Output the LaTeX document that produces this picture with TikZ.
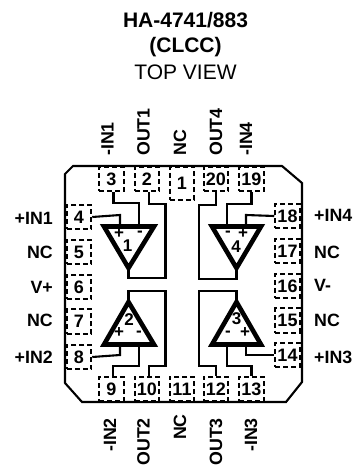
\documentclass[tikz,border=0pt]{standalone}
\usepackage{fontspec}
\setmainfont{Liberation Sans}
\tikzset{x=1pt,y=-1pt,
 pin/.style={draw,fill=white,line width=2pt,dash pattern=on 5pt off 3pt,minimum width=24.5pt,minimum height=24.5pt,inner sep=0pt,font=\bfseries\fontsize{18}{18}\selectfont},
 wire/.style={line width=2.1pt,line join=miter},
 amp/.style={line width=4.6pt,line join=miter},
 lab/.style={font=\bfseries\fontsize{17.8}{18}\selectfont,inner sep=0pt},
 ampmark/.style={font=\bfseries\fontsize{17}{17}\selectfont,inner sep=0pt},
 title/.style={font=\fontsize{21}{24}\selectfont,inner sep=0pt}}
\begin{document}
\begin{tikzpicture}
\useasboundingbox (0,0) rectangle (353,466);
\node[title] (t1) at (185.5,20) {\bfseries HA-4741/883};
\node[title] (t2) at (185.5,47) {\bfseries (CLCC)};
\node[title] (t3) at (185.5,72) {TOP VIEW};
\draw[line width=2.1pt] (65,174) -- (73,166) -- (282,166) -- (302,183) -- (302,382) -- (286,402) -- (82,402) -- (65,383) -- cycle;
\node[pin] (p3) at (111.5,179) {3};
\node[pin] (p2) at (147,179) {2};
\node[pin,minimum height=33pt] (p1) at (182,183) {1};
\node[pin] (p20) at (216,179) {20};
\node[pin] (p19) at (251.5,179) {19};
\node[pin] (p4) at (79,217) {4};
\node[pin] (p5) at (79,252) {5};
\node[pin] (p6) at (79,287) {6};
\node[pin] (p7) at (79,321.5) {7};
\node[pin] (p8) at (79,357) {8};
\node[pin] (p18) at (287.5,216) {18};
\node[pin] (p17) at (287.5,251) {17};
\node[pin] (p16) at (287.5,286) {16};
\node[pin] (p15) at (287.5,320.5) {15};
\node[pin] (p14) at (287.5,355) {14};
\node[pin] (p9) at (111.5,389) {9};
\node[pin] (p10) at (147,389) {10};
\node[pin] (p11) at (182,389) {11};
\node[pin] (p12) at (216,389) {12};
\node[pin] (p13) at (251.5,389) {13};
% amps
\draw[amp] (104,226.5) -- (154,226.5) -- (128.5,268) -- cycle;
\draw[amp] (212,226.5) -- (261,226.5) -- (236.5,268) -- cycle;
\draw[amp] (104,344.5) -- (154,344.5) -- (128.5,302) -- cycle;
\draw[amp] (212,344.5) -- (261,344.5) -- (236.5,302) -- cycle;
\node[ampmark] (a1) at (127.5,246) {1};
\node[ampmark] (a4) at (236,247) {4};
\node[ampmark] (a2) at (129,320) {2};
\node[ampmark] (a3) at (236.5,319) {3};
\node[ampmark] (a1p) at (119,234) {+};
\node[ampmark] (a1m) at (140,234) {-};
\node[ampmark] (a4m) at (228,234) {-};
\node[ampmark] (a4p) at (243,234) {+};
\node[ampmark] (a2p) at (119,333) {+};
\node[ampmark] (a2m) at (139,334) {-};
\node[ampmark] (a3m) at (228,334) {-};
\node[ampmark] (a3p) at (245,333) {+};
% wires
\coordinate (i1p) at (120,225); \coordinate (i1m) at (139,225); \coordinate (o1) at (128.5,270);
\coordinate (i4m) at (227,225); \coordinate (i4p) at (246,225); \coordinate (o4) at (236.5,270);
\coordinate (i2p) at (120,345); \coordinate (i2m) at (139,345); \coordinate (o2) at (128.5,300);
\coordinate (i3m) at (227,345); \coordinate (i3p) at (246,345); \coordinate (o3) at (236.5,300);
\draw[wire] (p3.south) ++(2,0) |- (139,203) -- (i1m);
\draw[wire] (p2.south) ++(2,0) |- (165.5,204) |- (128.5,278) -- (o1);
\draw[wire] (p4.east) -- (120,215) -- (i1p);
\draw[wire] (o2) -- (128.5,291) -- (165.5,291) |- (149,366) -- (149,376.5);
\draw[wire] (i2m) -- (139,366) -- (113,366) -- (113,376.5);
\draw[wire] (i2p) -- (120,355) -- (p8.east);
\draw[wire] (p20.south) |- (199,205) |- (236.5,279) -- (o4);
\draw[wire] (p19.south) |- (227,204) -- (i4m);
\draw[wire] (p18.west) -- (246,215) -- (i4p);
\draw[wire] (o3) -- (236.5,291) -- (199,291) |- (216,366) -- (p12.north);
\draw[wire] (i3m) -- (227,366) -- (251.5,366) -- (p13.north);
\draw[wire] (i3p) -- (246,355) -- (p14.west);
% labels
\node[lab,anchor=west,rotate=90] (l1) at (107.5,156) {-IN1};
\node[lab,anchor=west,rotate=90] (l2) at (143.5,156) {OUT1};
\node[lab,anchor=west,rotate=90] (l3) at (180,156) {NC};
\node[lab,anchor=west,rotate=90] (l4) at (216,156) {OUT4};
\node[lab,anchor=west,rotate=90] (l5) at (246,156) {-IN4};
\node[lab,anchor=east,rotate=90] (l6) at (110,418) {-IN2};
\node[lab,anchor=east,rotate=90] (l7) at (143.5,418) {OUT2};
\node[lab,anchor=east,rotate=90] (l8) at (180,414) {NC};
\node[lab,anchor=east,rotate=90] (l9) at (216,418) {OUT3};
\node[lab,anchor=east,rotate=90] (l10) at (251,418) {-IN3};
\node[lab,anchor=east] (l11) at (53,218) {+IN1};
\node[lab,anchor=east] (l12) at (53,252) {NC};
\node[lab,anchor=east] (l13) at (53,287) {V+};
\node[lab,anchor=east] (l14) at (53,320) {NC};
\node[lab,anchor=east] (l15) at (53,357) {+IN2};
\node[lab,anchor=west] (l16) at (314,215) {+IN4};
\node[lab,anchor=west] (l17) at (314,252) {NC};
\node[lab,anchor=west] (l18) at (314,285) {V-};
\node[lab,anchor=west] (l19) at (314,320) {NC};
\node[lab,anchor=west] (l20) at (314,357) {+IN3};
\end{tikzpicture}
\end{document}
